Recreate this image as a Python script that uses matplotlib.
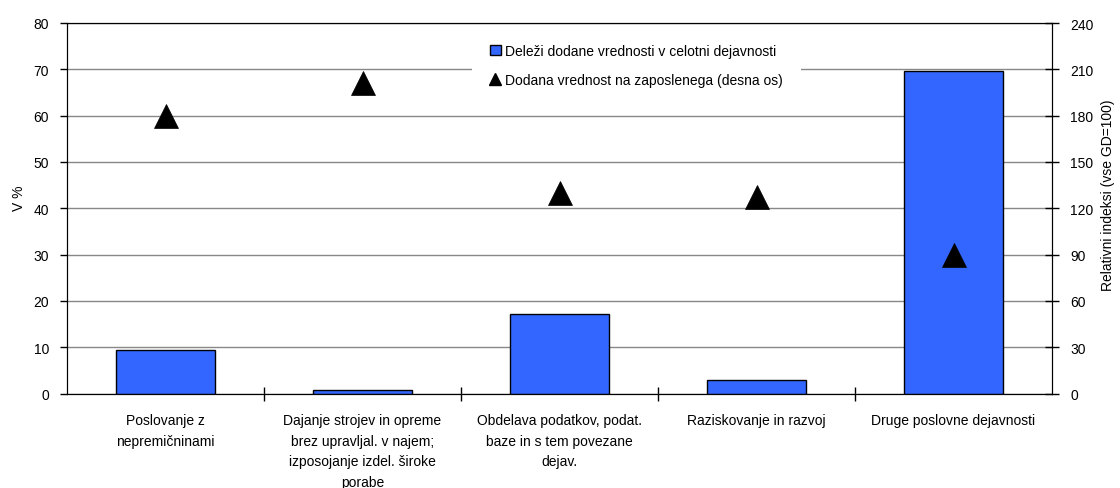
import numpy as np
import matplotlib
matplotlib.use("Agg")
import matplotlib.pyplot as plt
from matplotlib.patches import Patch
from matplotlib.lines import Line2D

plt.rcParams['font.family'] = ['Liberation Sans', 'DejaVu Sans']
plt.rcParams['font.size'] = 10

# podatki
categories = [
    "Poslovanje z\nnepremičninami",
    "Dajanje strojev in opreme\nbrez upravljal. v najem;\nizposojanje izdel. široke\nporabe",
    "Obdelava podatkov, podat.\nbaze in s tem povezane\ndejav.",
    "Raziskovanje in razvoj",
    "Druge poslovne dejavnosti",
]
share = [9.4, 0.75, 17.2, 2.9, 69.6]        # levo os, v %
per_employee = [180, 201, 130, 127, 90]     # desna os, indeks

bar_label = "Deleži dodane vrednosti v celotni dejavnosti"
tri_label = "Dodana vrednost na zaposlenega (desna os)"

x = np.arange(len(categories))

fig = plt.figure(figsize=(11.2, 4.89), dpi=100)
ax = fig.add_axes([67/1120, 1 - 394.5/489, (1052-67)/1120, (394.5-24)/489])
ax2 = ax.twinx()

ax.bar(x, share, 0.5, color='#3366ff', edgecolor='black', linewidth=1, zorder=3)
ax2.plot(x, per_employee, linestyle='none', marker='^', markersize=17.5,
         color='black', markeredgewidth=0.5, zorder=4)

ax.set_xlim(-0.5, len(categories) - 0.5)
ax.set_ylim(0, 80)
ax.set_yticks(np.arange(0, 81, 10))
ax2.set_ylim(0, 240)
ax2.set_yticks(np.arange(0, 241, 30))

# mreza
ax.yaxis.grid(True, color='#888888', linewidth=1, zorder=0)
ax.set_axisbelow(True)

# kljukice med kategorijami, oznake na sredini
ax.set_xticks(np.arange(len(categories) - 1) + 0.5)
ax.set_xticklabels([])
ax.tick_params(axis='x', which='major', direction='inout', length=10, width=1)
ax.set_xticks(x, minor=True)
ax.set_xticklabels(categories, minor=True, linespacing=1.6, va='top')
ax.tick_params(axis='x', which='minor', length=0, pad=14)

ax.tick_params(axis='y', direction='out', length=5, width=1, pad=8)
ax2.tick_params(axis='y', direction='inout', length=10, width=1, pad=8)

for sp in ax.spines.values():
    sp.set_color('black')
for sp in ax2.spines.values():
    sp.set_color('black')

fig.text(19/1120, 1 - 198/489, "V %", rotation=90, ha='center', va='center')
fig.text(1108/1120, 1 - 195/489, "Relativni indeksi (vse GD=100)",
         rotation=90, ha='center', va='center')

handles = [
    Patch(facecolor='#3366ff', edgecolor='black', linewidth=1),
    Line2D([], [], linestyle='none', marker='^', markersize=9, color='black'),
]
leg = ax2.legend(handles, [bar_label, tri_label], loc='center',
                 bbox_to_anchor=(0.578, 0.885), frameon=True, fancybox=False,
                 handlelength=0.8, handleheight=0.8, handletextpad=0.3,
                 labelspacing=1.1, borderpad=1.3, borderaxespad=0)
leg.get_frame().set_facecolor('white')
leg.get_frame().set_edgecolor('none')
leg.get_frame().set_alpha(1)
leg.set_zorder(10)

fig.savefig("out.png", dpi=100)
